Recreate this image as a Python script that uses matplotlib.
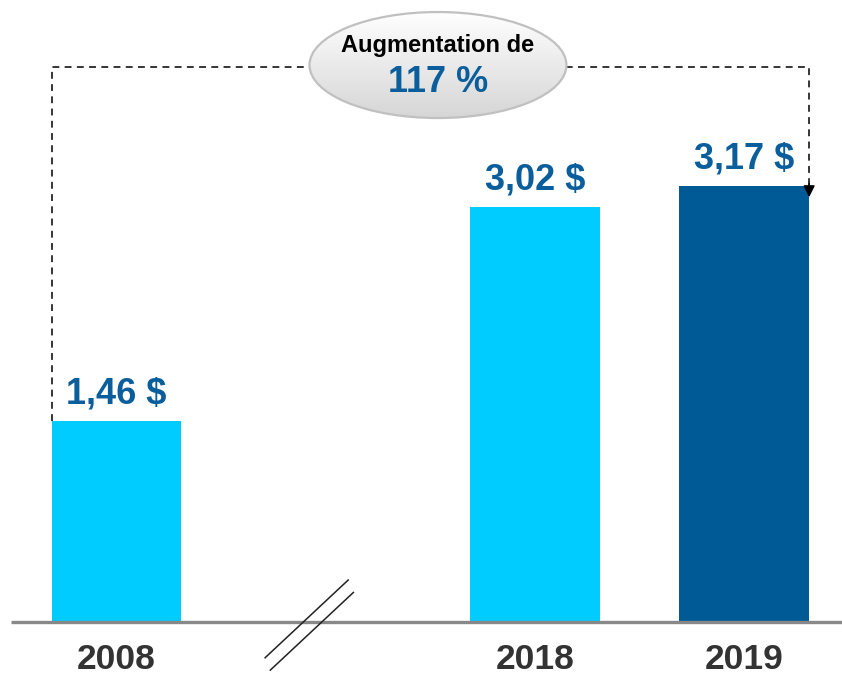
import numpy as np
import matplotlib
matplotlib.use('Agg')
from matplotlib import pyplot as plt
from matplotlib.patches import Ellipse

plt.rcParams['font.family'] = ['Liberation Sans', 'DejaVu Sans']

annees = ['2008', '2018', '2019']
positions = [0, 2, 3]
valeurs = [1.46, 3.02, 3.17]
etiquettes = ['1,46 $', '3,02 $', '3,17 $']
couleurs = ['#00ccff', '#00ccff', '#005a96']
titre_haut = 'Augmentation de'
titre_pct = '117 %'

bleu_txt = '#0b5e9c'
largeur = 0.62

fig = plt.figure(figsize=(8.42, 6.8), dpi=100)
ax = fig.add_axes([0, 0, 1, 1])
ax.set_xlim(-0.557, 3.467)
ax.set_ylim(-0.422, 4.524)
ax.axis('off')

ax.bar(positions, valeurs, width=largeur, color=couleurs, zorder=2)

# ligne de base
ax.plot([-0.504, 3.467], [0, 0], color='#888888', lw=2.4, zorder=3,
        solid_capstyle='butt')

for p, v, t in zip(positions, valeurs, etiquettes):
    ax.annotate(t, (p, v), xytext=(0, 7), textcoords='offset points',
                ha='center', va='bottom', fontsize=26, fontweight='bold',
                color=bleu_txt)

for p, a in zip(positions, annees):
    ax.text(p, -0.275, a, ha='center', va='center', fontsize=25.5,
            fontweight='bold', color='#333333')

# coupure de l'axe
for dx, dy in [(0, 0), (0.025, -0.09)]:
    ax.plot([0.71 + dx, 1.107 + dx], [-0.26 + dy, 0.305 + dy],
            color='#222222', lw=1.1, zorder=4)

# ligne pointillée + flèche
xg = positions[0] - largeur / 2
xd = positions[2] + largeur / 2
yh = 4.036
pointe = valeurs[2] - 0.08
ax.plot([xg, xg, xd, xd], [valeurs[0], yh, yh, pointe + 0.09],
        color='black', lw=1.1, dashes=(4.5, 3.5), zorder=1)
ax.annotate('', xy=(xd, pointe), xytext=(xd, pointe + 0.1),
            arrowprops=dict(arrowstyle='-|>,head_length=0.7,head_width=0.35',
                            color='black', lw=1, shrinkA=0, shrinkB=0),
            zorder=5)

# bulle
cx, cy, ew, eh = 1.536, 4.051, 1.228, 0.771
ell = Ellipse((cx, cy), ew, eh, facecolor='none', edgecolor='#c0c0c0',
              lw=1.6, zorder=7)
grad = np.linspace(1, 0, 100).reshape(-1, 1)
img = ax.imshow(grad, cmap=matplotlib.colors.LinearSegmentedColormap.from_list(
    'g', ['#d6d6d6', '#ffffff']), extent=(cx - ew / 2, cx + ew / 2,
                                          cy - eh / 2, cy + eh / 2),
    aspect='auto', origin='upper', zorder=6, vmin=0, vmax=1)
ax.add_patch(ell)
clip = Ellipse((cx, cy), ew, eh, transform=ax.transData)
img.set_clip_path(clip)
ax.set_xlim(-0.557, 3.467)
ax.set_ylim(-0.422, 4.524)

ax.text(cx, cy + 0.145, titre_haut, ha='center', va='center', fontsize=17,
        fontweight='bold', color='black', zorder=8)
ax.text(cx, cy - 0.13, titre_pct, ha='center', va='center', fontsize=26,
        fontweight='bold', color=bleu_txt, zorder=8)

fig.savefig('out.png', dpi=100)
